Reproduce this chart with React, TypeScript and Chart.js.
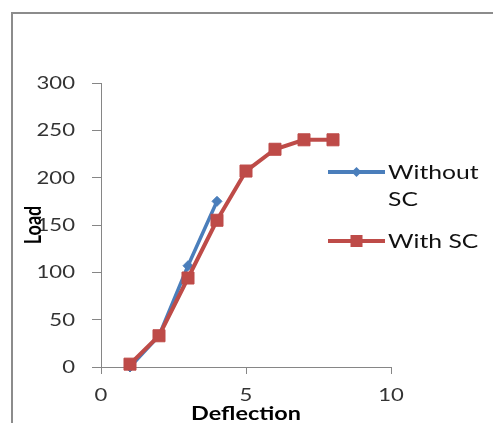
import React, { useEffect, useRef } from "react";
import { Chart, registerables } from "chart.js";

Chart.register(...registerables);

// ---- data ----
const DEFLECTION_WITHOUT = [1, 2, 3, 4];
const LOAD_WITHOUT = [0, 33, 107, 175];
const DEFLECTION_WITH = [1, 2, 3, 4, 5, 6, 7, 8];
const LOAD_WITH = [3, 33, 94, 155, 207, 230, 240, 240];
const SERIES_NAMES = ["Without SC", "With SC"];
const SERIES_COLORS = ["#4a7ebb", "#be4b48"];
const X_AXIS_TITLE = "Deflection";
const Y_AXIS_TITLE = "Load";
const X_MIN = 0;
const X_MAX = 10;
const X_STEP = 5;
const Y_MIN = 0;
const Y_MAX = 300;
const Y_STEP = 50;

// ---- style ----
const FONT = 'Lato, "DejaVu Sans", sans-serif';
const SX = 1.3; // horizontal stretch of the text, as in the reference
const AXIS_COLOR = "#868686";
const W = 493;
const H = 423;

function wrapWords(ctx: CanvasRenderingContext2D, text: string, maxW: number): string[] {
  const words = text.split(" ");
  const lines: string[] = [];
  let cur = "";
  for (const w of words) {
    const test = cur ? cur + " " + w : w;
    if (cur && ctx.measureText(test).width * SX > maxW) {
      lines.push(cur);
      cur = w;
    } else cur = test;
  }
  if (cur) lines.push(cur);
  return lines;
}

const textPlugin = {
  id: "stretchedText",
  afterDraw(chart: any) {
    const ctx: CanvasRenderingContext2D = chart.ctx;
    const { left, right, top, bottom } = chart.chartArea;
    const xs = chart.scales.x;
    const ys = chart.scales.y;
    const put = (txt: string, x: number, y: number, align: CanvasTextAlign) => {
      ctx.save();
      ctx.translate(x, y);
      ctx.scale(SX, 1);
      ctx.textAlign = align;
      ctx.textBaseline = "alphabetic";
      ctx.fillText(txt, 0, 0);
      ctx.restore();
    };
    ctx.save();
    // tick labels
    ctx.fillStyle = "#333";
    ctx.font = `17px ${FONT}`;
    ys.ticks.forEach((t: any) => put(String(t.label), left - 26, ys.getPixelForValue(t.value) + 6, "right"));
    xs.ticks.forEach((t: any) => put(String(t.label), xs.getPixelForValue(t.value), bottom + 34, "center"));
    // axis titles
    ctx.fillStyle = "#000";
    ctx.font = `bold 18px ${FONT}`;
    put(X_AXIS_TITLE, (left + right) / 2, bottom + 53, "center");
    ctx.save();
    ctx.translate(41, (top + bottom) / 2);
    ctx.scale(SX, 1);
    ctx.rotate(-Math.PI / 2);
    ctx.textAlign = "center";
    ctx.textBaseline = "alphabetic";
    ctx.fillText(Y_AXIS_TITLE, 0, 0);
    ctx.restore();
    // legend
    ctx.font = `19px ${FONT}`;
    const lineX0 = right - 63;
    const lineX1 = right - 6;
    const markX = (lineX0 + lineX1) / 2;
    const textX = right - 3;
    let y = top + 89;
    chart.data.datasets.forEach((ds: any, i: number) => {
      const color = ds.borderColor;
      ctx.strokeStyle = color;
      ctx.fillStyle = color;
      ctx.lineWidth = 4;
      ctx.beginPath();
      ctx.moveTo(lineX0, y);
      ctx.lineTo(lineX1, y);
      ctx.stroke();
      if (ds.pointStyle === "rectRot") {
        const r = 5;
        ctx.beginPath();
        ctx.moveTo(markX, y - r);
        ctx.lineTo(markX + r, y);
        ctx.lineTo(markX, y + r);
        ctx.lineTo(markX - r, y);
        ctx.closePath();
        ctx.fill();
      } else {
        ctx.fillRect(markX - 6, y - 6, 12, 12);
      }
      ctx.fillStyle = "#111";
      const lines = wrapWords(ctx, ds.label, W - textX - 5);
      lines.forEach((ln, k) => put(ln, textX, y + 7 + k * 27, "left"));
      y += lines.length * 27 + 15;
    });
    ctx.restore();
  },
};

export default function App() {
  const canvasRef = useRef<HTMLCanvasElement | null>(null);

  useEffect(() => {
    const canvas = canvasRef.current;
    if (!canvas) return;
    const chart = new Chart(canvas, {
      type: "line",
      data: {
        datasets: [
          {
            label: SERIES_NAMES[0],
            data: DEFLECTION_WITHOUT.map((x, i) => ({ x, y: LOAD_WITHOUT[i] })),
            borderColor: SERIES_COLORS[0],
            backgroundColor: SERIES_COLORS[0],
            pointBackgroundColor: SERIES_COLORS[0],
            pointBorderColor: SERIES_COLORS[0],
            borderWidth: 3.5,
            pointStyle: "rectRot",
            pointRadius: 5,
            pointBorderWidth: 1,
            tension: 0,
            clip: false as any,
            order: 2,
          },
          {
            label: SERIES_NAMES[1],
            data: DEFLECTION_WITH.map((x, i) => ({ x, y: LOAD_WITH[i] })),
            borderColor: SERIES_COLORS[1],
            backgroundColor: SERIES_COLORS[1],
            pointBackgroundColor: SERIES_COLORS[1],
            pointBorderColor: SERIES_COLORS[1],
            borderWidth: 4,
            pointStyle: "rect",
            pointRadius: 8.5,
            pointBorderWidth: 1,
            tension: 0,
            clip: false as any,
            order: 1,
          },
        ],
      },
      options: {
        animation: false,
        responsive: false,
        maintainAspectRatio: false,
        layout: { padding: { left: 0, top: 83, right: 102, bottom: 0 } },
        plugins: { legend: { display: false }, tooltip: { enabled: false } },
        scales: {
          x: {
            type: "linear",
            min: X_MIN,
            max: X_MAX,
            ticks: { stepSize: X_STEP, display: false },
            grid: { drawOnChartArea: false, tickLength: 7, color: AXIS_COLOR, lineWidth: 1 },
            border: { color: AXIS_COLOR, width: 1 },
            afterFit: (s: any) => {
              s.height = 56;
            },
          },
          y: {
            type: "linear",
            min: Y_MIN,
            max: Y_MAX,
            ticks: { stepSize: Y_STEP, display: false },
            grid: { drawOnChartArea: false, tickLength: 9, color: AXIS_COLOR, lineWidth: 1 },
            border: { color: AXIS_COLOR, width: 1 },
            afterFit: (s: any) => {
              s.width = 101;
            },
          },
        },
      },
      plugins: [textPlugin],
    });
    return () => chart.destroy();
  }, []);

  return (
    <div
      style={{
        position: "fixed",
        left: 0,
        top: 0,
        width: W,
        height: H,
        background: "#fff",
        overflow: "hidden",
      }}
    >
      <canvas ref={canvasRef} width={W} height={H} style={{ display: "block", position: "absolute", left: 0, top: 0 }} />
      <div
        style={{
          position: "absolute",
          left: 11,
          top: 12,
          width: W,
          height: H,
          borderLeft: "2px solid #8c8c8c",
          borderTop: "2px solid #8c8c8c",
          pointerEvents: "none",
        }}
      />
    </div>
  );
}
